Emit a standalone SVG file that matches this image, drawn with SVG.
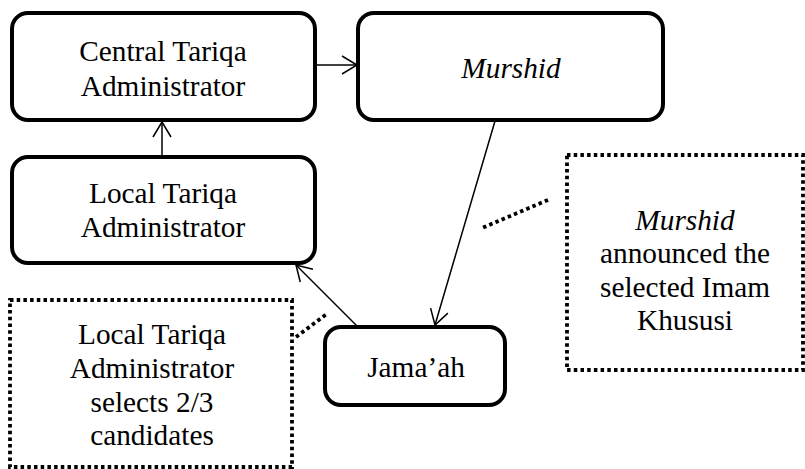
<svg xmlns="http://www.w3.org/2000/svg" width="805" height="469" viewBox="0 0 805 469">
<style>
.box{fill:#fff;stroke:#000;stroke-width:4}
.dot{fill:none;stroke:#000;stroke-width:3.8;stroke-dasharray:3.5 3.2}
.t{font-family:"Liberation Serif","Times New Roman",serif;font-size:29.3px;fill:#000;text-anchor:middle}
.i{font-style:italic}
.c{fill:none;stroke:#000;stroke-width:1.5}
</style>
<defs>
<marker id="ah" markerUnits="userSpaceOnUse" viewBox="-17 -11 19 22" markerWidth="19" markerHeight="22" refX="0" refY="0" orient="auto">
<path d="M-15,-9 L0,0 L-15,9" fill="none" stroke="#000" stroke-width="1.5"/>
</marker>
</defs>
<g id="connectors">
<line class="c" x1="315" y1="65" x2="357" y2="65" marker-end="url(#ah)"/>
<line class="c" x1="162" y1="157" x2="162" y2="122" marker-end="url(#ah)"/>
<line class="c" x1="495" y1="121" x2="435" y2="325" marker-end="url(#ah)"/>
<line class="c" x1="357" y1="326" x2="296" y2="265" marker-end="url(#ah)"/>
<line class="dot" x1="296" y1="337" x2="328" y2="313"/>
<line class="dot" x1="548" y1="200" x2="482" y2="228"/>
</g>
<g id="central">
<rect class="box" x="12" y="13" width="303" height="107" rx="16"/>
<text class="t" x="163" y="61">Central Tariqa</text>
<text class="t" x="163" y="96">Administrator</text>
</g>
<g id="murshid">
<rect class="box" x="358" y="13" width="305" height="107" rx="16"/>
<text class="t i" x="511" y="78">Murshid</text>
</g>
<g id="local">
<rect class="box" x="12" y="157" width="303" height="106" rx="16"/>
<text class="t" x="163" y="203">Local Tariqa</text>
<text class="t" x="163" y="237">Administrator</text>
</g>
<g id="jamaah">
<rect class="box" x="325" y="327" width="180" height="78" rx="16"/>
<text class="t" x="416" y="377">Jama’ah</text>
</g>
<g id="note-left">
<rect class="dot" x="10" y="300" width="282" height="167"/>
<text class="t" x="152" y="344">Local Tariqa</text>
<text class="t" x="152" y="378">Administrator</text>
<text class="t" x="152" y="412">selects 2/3</text>
<text class="t" x="152" y="445">candidates</text>
</g>
<g id="note-right">
<rect class="dot" x="567" y="155" width="236" height="215"/>
<text class="t i" x="685" y="230">Murshid</text>
<text class="t" x="685" y="263">announced the</text>
<text class="t" x="685" y="297">selected Imam</text>
<text class="t" x="685" y="330">Khususi</text>
</g>
</svg>
